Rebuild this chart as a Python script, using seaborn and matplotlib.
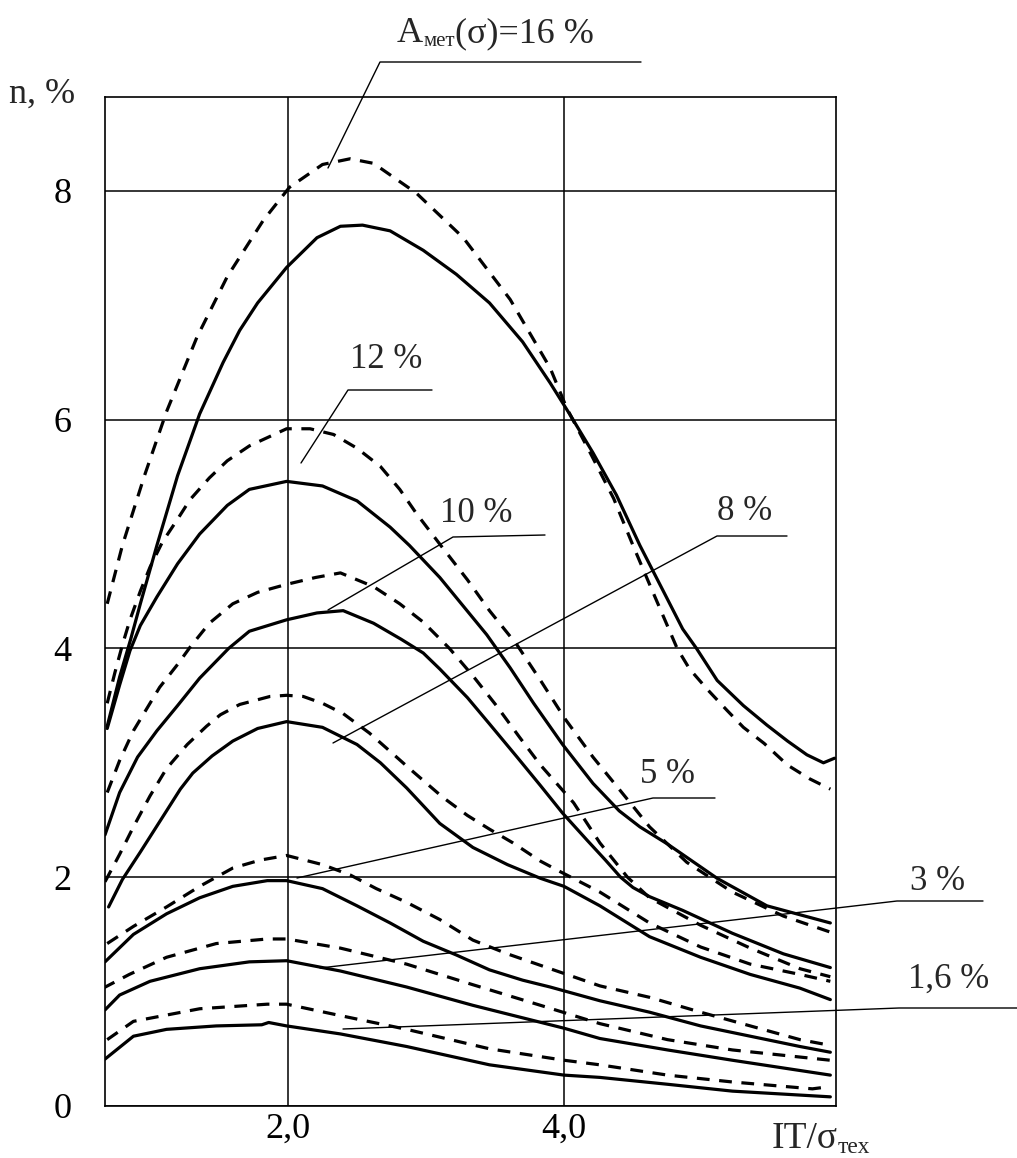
import numpy as np
import pandas as pd
import matplotlib
matplotlib.use("Agg")
import matplotlib.pyplot as plt
import seaborn as sns

# ---------------- data ----------------
x_16_dash = [0.69, 0.80, 0.96, 1.12, 1.34, 1.56, 1.82, 2.01, 2.25, 2.45, 2.62, 2.93, 3.27, 3.61, 3.90,
             4.02, 4.19, 4.36, 4.50, 4.62, 4.72, 4.82, 4.91, 5.04, 5.18, 5.30, 5.45, 5.62, 5.78, 5.93]
n_16_dash = [4.39, 4.90, 5.51, 6.07, 6.72, 7.25, 7.74, 8.03, 8.23, 8.28, 8.24, 7.98, 7.59, 7.05, 6.45,
             6.10, 5.71, 5.31, 4.90, 4.56, 4.28, 4.00, 3.82, 3.64, 3.46, 3.31, 3.17, 2.98, 2.86, 2.77]
x_16_sol = [0.69, 0.78, 0.86, 0.93, 1.05, 1.20, 1.36, 1.53, 1.65, 1.78, 1.99, 2.21, 2.38, 2.54, 2.74, 2.98, 3.22,
            3.46, 3.70, 3.90, 4.04, 4.21, 4.38, 4.55, 4.72, 4.86, 4.96, 5.11, 5.30, 5.47, 5.62, 5.76, 5.88, 5.96]
n_16_sol = [3.32, 3.75, 4.08, 4.39, 4.90, 5.51, 6.05, 6.50, 6.78, 7.02, 7.33, 7.59, 7.69, 7.70, 7.65, 7.48, 7.27,
            7.02, 6.68, 6.32, 6.05, 5.71, 5.34, 4.90, 4.50, 4.17, 4.00, 3.72, 3.50, 3.33, 3.19, 3.07, 3.00, 3.04]

x_12_dash = [0.69, 0.746, 0.80, 0.855, 0.93, 1.00, 1.09, 1.20, 1.29, 1.43, 1.56, 1.72, 1.99, 2.16, 2.33, 2.50,
             2.67, 2.81, 2.93, 3.12, 3.30, 3.46, 3.66, 3.83, 4.01, 4.21, 4.48, 4.62, 4.89, 5.22, 5.59, 5.93]
n_12_dash = [3.52, 3.79, 4.03, 4.25, 4.50, 4.71, 4.93, 5.13, 5.30, 5.49, 5.64, 5.77, 5.92, 5.92, 5.87, 5.75,
             5.59, 5.39, 5.18, 4.88, 4.60, 4.33, 4.03, 3.72, 3.38, 3.05, 2.65, 2.44, 2.13, 1.87, 1.66, 1.52]
x_12_sol = [0.69, 0.78, 0.855, 0.93, 1.05, 1.20, 1.36, 1.56, 1.72, 1.99, 2.25, 2.50, 2.74, 2.88, 3.10, 3.27,
            3.44, 3.61, 3.78, 3.99, 4.21, 4.40, 4.55, 4.75, 5.11, 5.47, 5.93]
n_12_sol = [3.30, 3.68, 3.98, 4.20, 4.45, 4.74, 5.00, 5.25, 5.39, 5.46, 5.42, 5.29, 5.06, 4.90, 4.62, 4.37,
            4.12, 3.83, 3.52, 3.16, 2.82, 2.58, 2.44, 2.29, 1.99, 1.75, 1.60]

x_10_dash = [0.69, 0.78, 0.88, 0.98, 1.07, 1.20, 1.29, 1.43, 1.60, 1.78, 1.99, 2.20, 2.38, 2.62, 2.81, 2.98,
             3.17, 3.34, 3.51, 3.68, 3.83, 4.07, 4.26, 4.46, 4.62, 4.99, 5.35, 5.71, 5.93]
n_10_dash = [2.74, 3.02, 3.28, 3.48, 3.66, 3.86, 4.01, 4.22, 4.39, 4.49, 4.56, 4.62, 4.66, 4.54, 4.39, 4.23,
             4.00, 3.76, 3.50, 3.22, 2.98, 2.65, 2.30, 2.00, 1.82, 1.58, 1.38, 1.20, 1.13]
x_10_sol = [0.674, 0.78, 0.91, 1.05, 1.20, 1.36, 1.57, 1.72, 1.99, 2.21, 2.40, 2.62, 2.82, 2.98, 3.10, 3.30,
            3.46, 3.66, 3.83, 3.99, 4.17, 4.30, 4.41, 4.50, 4.62, 4.86, 5.22, 5.59, 5.93]
n_10_sol = [2.37, 2.74, 3.05, 3.28, 3.50, 3.74, 4.00, 4.15, 4.25, 4.31, 4.33, 4.22, 4.08, 3.96, 3.82, 3.57,
            3.34, 3.05, 2.80, 2.56, 2.32, 2.15, 2.00, 1.91, 1.83, 1.71, 1.51, 1.33, 1.21]

x_8_dash = [0.674, 0.78, 0.88, 1.00, 1.12, 1.27, 1.41, 1.51, 1.65, 1.87, 1.99, 2.11, 2.25, 2.40, 2.59, 2.74,
            2.88, 3.12, 3.30, 3.46, 3.63, 3.83, 3.97, 4.26, 4.62, 4.99, 5.35, 5.71, 5.93]
n_8_dash = [1.96, 2.20, 2.44, 2.71, 2.95, 3.16, 3.32, 3.42, 3.51, 3.58, 3.59, 3.58, 3.52, 3.43, 3.26, 3.10,
            2.95, 2.70, 2.54, 2.42, 2.30, 2.14, 2.05, 1.87, 1.60, 1.39, 1.24, 1.15, 1.09]
x_8_sol = [0.70, 0.80, 0.93, 1.12, 1.22, 1.31, 1.45, 1.60, 1.78, 1.99, 2.25, 2.50, 2.67, 2.86, 3.10, 3.34,
           3.59, 3.83, 4.00, 4.26, 4.62, 4.99, 5.35, 5.71, 5.93]
n_8_sol = [1.74, 1.98, 2.22, 2.58, 2.77, 2.91, 3.06, 3.19, 3.30, 3.36, 3.31, 3.16, 3.00, 2.78, 2.47, 2.26,
           2.11, 1.99, 1.92, 1.75, 1.48, 1.30, 1.15, 1.03, 0.93]

x_5_dash = [0.69, 0.88, 1.12, 1.36, 1.60, 1.80, 1.99, 2.25, 2.45, 2.64, 2.86, 3.10, 3.34, 3.59, 3.90, 4.26,
            4.62, 4.99, 5.35, 5.71, 5.93]
n_5_dash = [1.42, 1.57, 1.74, 1.92, 2.08, 2.15, 2.19, 2.11, 2.02, 1.90, 1.78, 1.63, 1.45, 1.33, 1.20, 1.05,
            0.95, 0.82, 0.70, 0.58, 0.53]
x_5_sol = [0.674, 0.88, 1.12, 1.36, 1.60, 1.85, 1.99, 2.25, 2.50, 2.74, 2.98, 3.22, 3.46, 3.70, 3.90, 4.26,
           4.62, 4.99, 5.35, 5.71, 5.93]
n_5_sol = [1.26, 1.50, 1.68, 1.82, 1.92, 1.97, 1.97, 1.90, 1.75, 1.60, 1.44, 1.32, 1.19, 1.10, 1.04, 0.92,
           0.82, 0.70, 0.61, 0.52, 0.47]

x_3_dash = [0.66, 0.85, 1.12, 1.48, 1.85, 1.99, 2.38, 2.86, 3.34, 3.83, 4.26, 4.75, 5.22, 5.93]
n_3_dash = [1.03, 1.15, 1.30, 1.42, 1.46, 1.46, 1.38, 1.24, 1.06, 0.88, 0.72, 0.58, 0.49, 0.40]
x_3_sol = [0.674, 0.78, 1.00, 1.36, 1.72, 1.99, 2.38, 2.86, 3.34, 4.00, 4.26, 4.75, 5.22, 5.93]
n_3_sol = [0.84, 0.97, 1.09, 1.20, 1.26, 1.27, 1.18, 1.04, 0.88, 0.68, 0.59, 0.49, 0.40, 0.27]

x_16p_dash = [0.69, 0.88, 1.36, 1.85, 1.99, 2.38, 2.86, 3.46, 4.00, 4.26, 4.75, 5.22, 5.80, 5.93]
n_16p_dash = [0.58, 0.74, 0.85, 0.89, 0.89, 0.79, 0.67, 0.50, 0.40, 0.36, 0.27, 0.21, 0.15, 0.17]
x_16p_sol = [0.674, 0.88, 1.12, 1.48, 1.81, 1.86, 1.99, 2.38, 2.86, 3.46, 4.00, 4.26, 4.75, 5.22, 5.93]
n_16p_sol = [0.41, 0.61, 0.67, 0.70, 0.71, 0.73, 0.70, 0.63, 0.52, 0.36, 0.27, 0.25, 0.19, 0.13, 0.08]

x_ticks = [2, 4]
x_ticklabels = ["2,0", "4,0"]
y_ticks = [0, 2, 4, 6, 8]
y_ticklabels = ["0", "2", "4", "6", "8"]

series = [
    ("16", "dashed", x_16_dash, n_16_dash), ("16", "solid", x_16_sol, n_16_sol),
    ("12", "dashed", x_12_dash, n_12_dash), ("12", "solid", x_12_sol, n_12_sol),
    ("10", "dashed", x_10_dash, n_10_dash), ("10", "solid", x_10_sol, n_10_sol),
    ("8", "dashed", x_8_dash, n_8_dash), ("8", "solid", x_8_sol, n_8_sol),
    ("5", "dashed", x_5_dash, n_5_dash), ("5", "solid", x_5_sol, n_5_sol),
    ("3", "dashed", x_3_dash, n_3_dash), ("3", "solid", x_3_sol, n_3_sol),
    ("1.6", "dashed", x_16p_dash, n_16p_dash), ("1.6", "solid", x_16p_sol, n_16p_sol),
]
rows = []
for lev, kind, xs, ys in series:
    for i, (xv, yv) in enumerate(zip(xs, ys)):
        rows.append({"curve": lev + "_" + kind, "kind": kind, "x": xv, "n": yv, "order": i})
df = pd.DataFrame(rows)

# ---------------- style ----------------
sns.set_style("white")
plt.rcParams["font.family"] = ["Liberation Serif", "DejaVu Serif"]

W, H = 1017, 1158
fig = plt.figure(figsize=(W / 100, H / 100), dpi=100)
ax = fig.add_axes([105 / W, 1 - 1106 / H, 731 / W, 1009 / H])

sns.lineplot(data=df, x="x", y="n", units="curve", style="kind",
             dashes={"solid": "", "dashed": (4, 3)}, estimator=None, sort=False,
             color="black", linewidth=2.3, legend=False, ax=ax)

ax.set_xlim(0.674, 5.971)
ax.set_ylim(0, 8.82)
ax.set_xticks(x_ticks)
ax.set_xticklabels(x_ticklabels)
ax.set_yticks(y_ticks)
ax.set_yticklabels(y_ticklabels)
ax.tick_params(axis="both", length=0, labelsize=26, colors="black")
ax.tick_params(axis="y", pad=24)
ax.tick_params(axis="x", pad=5)
ax.set_xlabel("")
ax.set_ylabel("")
ax.grid(True, color="black", linewidth=1.1)
for s in ax.spines.values():
    s.set_color("black")
    s.set_linewidth(1.2)


def fx(px):
    return px / W


def fy(py):
    return 1 - py / H


# axis labels
fig.text(fx(9), fy(103), "n, %", fontsize=26, va="baseline", ha="left")
t1 = fig.text(fx(772), fy(1148), "IT/σ", fontsize=27, va="baseline", ha="left")
ax.annotate("тех", xy=(1, fy(1153)), xycoords=(t1, "figure fraction"), fontsize=17,
            va="baseline", ha="left", annotation_clip=False)

# curve labels with leader lines (pixel positions from the reference)
def leader(points):
    xs = [fx(p[0]) for p in points]
    ys = [fy(p[1]) for p in points]
    fig.add_artist(plt.Line2D(xs, ys, color="black", linewidth=1.0, transform=fig.transFigure))


a1 = fig.text(fx(397), fy(42), "A", fontsize=26, va="baseline", ha="left")
a2 = ax.annotate("мет", xy=(1, fy(46)), xycoords=(a1, "figure fraction"), fontsize=15,
                 va="baseline", ha="left", annotation_clip=False)
ax.annotate("(σ)=16 %", xy=(1, fy(42)), xycoords=(a2, "figure fraction"), fontsize=26,
            va="baseline", ha="left", annotation_clip=False)
leader([(328, 168), (380, 62), (641, 62)])

fig.text(fx(350), fy(368), "12 %", fontsize=25, va="baseline", ha="left")
leader([(301, 463), (348, 390), (432, 390)])

fig.text(fx(440), fy(522), "10 %", fontsize=25, va="baseline", ha="left")
leader([(328, 610), (453, 537), (545, 535)])

fig.text(fx(717), fy(520), "8 %", fontsize=25, va="baseline", ha="left")
leader([(333, 743), (717, 536), (787, 536)])

fig.text(fx(640), fy(783), "5 %", fontsize=25, va="baseline", ha="left")
leader([(297, 878), (653, 798), (715, 798)])

fig.text(fx(910), fy(890), "3 %", fontsize=25, va="baseline", ha="left")
leader([(320, 968), (897, 901), (983, 901)])

fig.text(fx(908), fy(988), "1,6 %", fontsize=25, va="baseline", ha="left")
leader([(343, 1029), (899, 1008), (1017, 1008)])

fig.savefig("out.png", dpi=100)
